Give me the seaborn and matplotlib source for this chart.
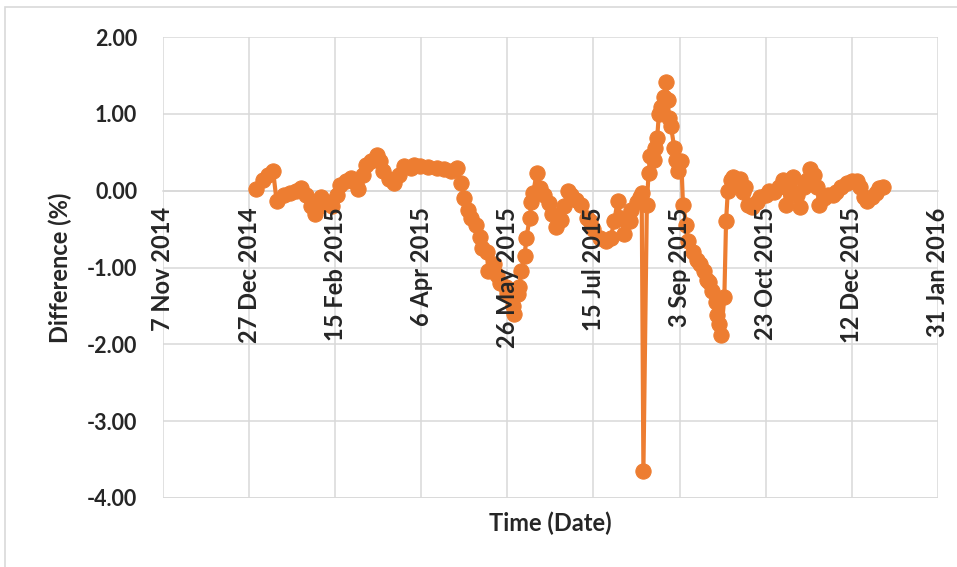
import pandas as pd
import seaborn as sns
import matplotlib.pyplot as plt
from matplotlib.patches import Rectangle
from matplotlib.ticker import FuncFormatter

# day of 2015 (0 = 31 Dec 2014) and the difference in percent
day = [0, 4, 7, 10, 12, 16, 20, 23, 26, 29,
       32, 34, 37, 38, 41, 44, 47, 49, 52, 55,
       58, 59, 62, 64, 67, 70, 72, 74, 77, 80,
       83, 86, 90, 92, 95, 100, 105, 109, 113, 117,
       119, 121, 123, 125, 128, 130, 131, 134, 135, 138,
       140, 142, 145, 146, 149, 150, 152, 153, 154, 156,
       157, 159, 160, 161, 163, 165, 167, 170, 172, 174,
       177, 179, 181, 183, 186, 189, 192, 194, 196, 200,
       203, 206, 208, 210, 212, 214, 217, 218, 221, 223,
       224, 225, 227, 228, 229, 231, 232, 233, 234, 235,
       237, 238, 239, 240, 241, 243, 244, 245, 247, 248,
       250, 251, 254, 256, 258, 260, 262, 263, 265, 267,
       268, 269, 270, 272, 273, 274, 276, 277, 279, 281,
       283, 284, 286, 288, 291, 293, 296, 298, 301, 304,
       306, 308, 310, 312, 314, 316, 318, 320, 322, 324,
       326, 327, 330, 332, 335, 337, 340, 343, 346, 349,
       351, 353, 355, 358, 360, 362, 364]
diff = [0.02, 0.14, 0.20, 0.25, -0.14, -0.06, -0.03, 0.00, 0.04, -0.05,
        -0.20, -0.30, -0.20, -0.08, -0.15, -0.20, -0.05, 0.08, 0.12, 0.17,
        0.10, 0.02, 0.20, 0.34, 0.38, 0.47, 0.38, 0.25, 0.15, 0.10,
        0.20, 0.32, 0.30, 0.33, 0.32, 0.31, 0.29, 0.28, 0.25, 0.29,
        0.10, -0.10, -0.25, -0.35, -0.45, -0.60, -0.75, -0.80, -1.05, -0.95,
        -1.10, -1.20, -1.25, -1.33, -1.50, -1.60, -1.35, -1.25, -1.05, -0.85,
        -0.62, -0.35, -0.15, -0.03, 0.23, 0.03, -0.05, -0.16, -0.30, -0.47,
        -0.38, -0.20, -0.01, -0.05, -0.12, -0.18, -0.35, -0.40, -0.50, -0.62,
        -0.66, -0.62, -0.40, -0.14, -0.35, -0.57, -0.40, -0.25, -0.15, -0.08,
        -0.03, -3.65, -0.18, 0.23, 0.45, 0.40, 0.55, 0.69, 1.00, 1.09,
        1.22, 1.42, 1.18, 0.95, 0.84, 0.55, 0.40, 0.25, 0.38, -0.18,
        -0.45, -0.66, -0.80, -0.90, -0.95, -1.05, -1.16, -1.19, -1.30, -1.45,
        -1.62, -1.74, -1.88, -1.39, -0.40, -0.01, 0.14, 0.18, 0.10, 0.15,
        -0.02, 0.05, -0.18, -0.21, -0.15, -0.08, -0.05, -0.01, -0.02, 0.05,
        0.14, -0.18, 0.00, 0.18, -0.05, -0.21, 0.05, 0.14, 0.28, 0.21,
        0.05, -0.18, -0.10, -0.05, -0.05, -0.02, 0.05, 0.10, 0.13, 0.12,
        0.05, -0.08, -0.14, -0.08, -0.03, 0.03, 0.05]

tick_dates = ["2014-11-07", "2014-12-27", "2015-02-15", "2015-04-06", "2015-05-26",
              "2015-07-15", "2015-09-03", "2015-10-23", "2015-12-12", "2016-01-31"]
y_ticks = [2, 1, 0, -1, -2, -3, -4]

df = pd.DataFrame({"date": pd.Timestamp("2014-12-31") + pd.to_timedelta(day, unit="D"),
                   "diff": diff})

sns.set_style("white")
plt.rcParams["font.family"] = ["Lato", "DejaVu Sans"]

grid_col = "#D9D9D9"
fig = plt.figure(figsize=(9.57, 5.67), dpi=100)
# light border of the chart area
fig.patches.append(Rectangle((5 / 957, -0.1), 1.2, 1.1 - 7 / 567, transform=fig.transFigure,
                             fill=False, edgecolor=grid_col, linewidth=1.2))
ax = fig.add_axes([0.1703, 0.1217, 0.8097, 0.813])

sns.lineplot(data=df, x="date", y="diff", ax=ax, color="#ED7D31", linewidth=3,
             marker="o", markersize=11, markeredgecolor="#ED7D31", zorder=3)

# axis line crosses at 0 (set before the ticks, it resets them)
for s in ["top", "right", "left"]:
    ax.spines[s].set_visible(False)
ax.spines["bottom"].set_position(("data", 0))
ax.spines["bottom"].set_color(grid_col)
ax.spines["bottom"].set_linewidth(1.1)
ax.spines["bottom"].set_zorder(1)

ticks = pd.to_datetime(tick_dates)
ax.set_xlim(ticks[0], ticks[-1])
ax.set_xticks(ticks)
ax.set_xticklabels([f"{t.day} {t:%b %Y}" for t in ticks], rotation=90,
                   fontsize=17, fontweight="bold")
ax.set_ylim(-4, 2)
ax.set_yticks(y_ticks)
ax.yaxis.set_major_formatter(FuncFormatter(lambda v, p: f"{v:.2f}"))
for lab in ax.get_yticklabels():
    lab.set_fontsize(15.5)
    lab.set_fontweight("bold")

# gridlines under the line, date labels over it
ax.yaxis.grid(True, color=grid_col, linewidth=1.1)
ax.xaxis.grid(False)
for t in ticks:
    ax.axvline(t, color=grid_col, linewidth=1.1, zorder=0)
ax.axhline(-4, color=grid_col, linewidth=1.1, zorder=0)
ax.set_axisbelow(True)
ax.xaxis.set_zorder(5)
ax.tick_params(axis="x", length=0, pad=12)
ax.tick_params(axis="y", length=0, pad=18.5)

ax.set_xlabel("Time (Date)", fontsize=17, fontweight="bold")
ax.xaxis.set_label_coords(0.5, -0.03)
ax.set_ylabel("Difference (%)", fontsize=17, fontweight="bold")
ax.yaxis.set_label_coords(-0.117, 0.5)

plt.savefig("out.png", dpi=100)
